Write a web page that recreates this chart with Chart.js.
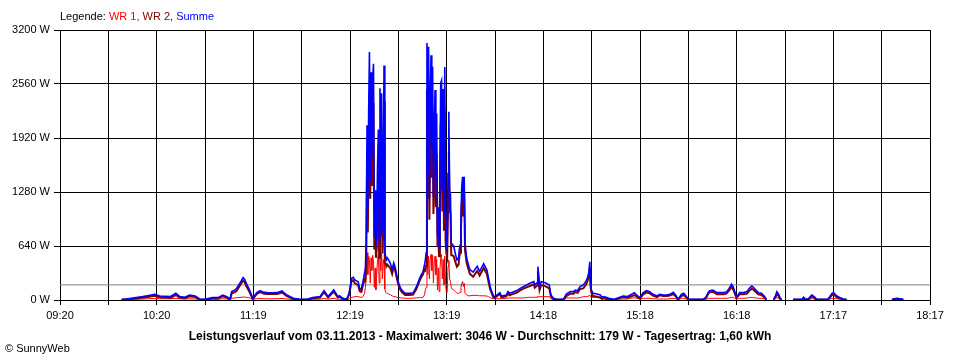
<!DOCTYPE html>
<html lang="de">
<head>
<meta charset="UTF-8">
<title>SunnyWeb Leistungsverlauf</title>
<script src="https://cdn.jsdelivr.net/npm/chart.js"></script>
<style>
  html, body { margin: 0; padding: 0; background: #fff; }
  #wrap { width: 960px; height: 360px; }
</style>
</head>
<body>
<div id="wrap"><canvas id="myChart" width="960" height="360"></canvas></div>
<script>
// Zeitachse in Minuten seit Mitternacht (09:20 .. 18:17)
const xMin = 560;
const xMax = 1097;
const xTickLabels = ['09:20', '', '10:20', '', '11:19', '', '12:19', '', '13:19', '', '14:18', '', '15:18', '', '16:18', '', '17:17', '', '18:17'];
const yMax = 3200;
const yStep = 640;
const durchschnitt = 179;

const times = [
  // morgens
  598, 602, 607, 611, 614, 618.5, 621.5, 625, 628, 631.5, 634, 637, 640, 643.5, 646.5, 649.5, 654, 657.5, 660.5, 663,
  665, 666, 668, 669, 671, 673, 674, 675, 677, 679, 681.5, 683.5, 686, 688, 691, 694, 697, 700, 704, 708,
  712.5, 716, 720.5, 723, 725.5, 729, 731.5, 732.5, 734.5, 737, 738.5, 740, 741, 742, 744, 745, 746, 747,
  // erste Spitze
  748, 748.5, 749, 749.5, 750, 750.5, 751, 751.5, 752, 752.5, 753, 753.5, 754, 754.5, 755, 755.5, 756, 756.5, 757, 757.5,
  758, 758.5, 759, 759.5, 760, 760.5, 761, 761.5, 762, 763, 764, 765, 766, 767, 768, 769, 770,
  771, 773, 776, 778, 780, 782, 783,
  // zweite Spitze
  784, 785, 785.5, 786, 786.5, 787, 787.5, 788, 788.5, 789, 789.5, 790, 790.5, 791, 791.5, 792, 792.5, 793, 793.5, 794,
  794.5, 795, 795.5, 796, 796.5, 797, 797.5, 798, 798.5, 799, 799.5, 800, 800.5, 801, 801.5, 802, 803, 804, 805, 806,
  806.5, 807, 807.5, 808, 808.5, 809, 809.5, 810, 811, 812, 813,
  // nachmittags
  815, 817.5, 819, 821.5, 823.5, 824.5, 825.5, 826.5, 827.5, 828.5, 829.5, 831.5, 832.5, 835.5, 836.5, 837.5, 840, 842, 844, 846,
  848, 850, 852.5, 853, 854.5, 855, 856, 857, 859.5, 862, 863, 864.5, 866.5, 870.5, 871.5, 872.5, 875, 877, 878, 879.5,
  881, 883, 884.5, 885.5, 886.5, 887, 887.5, 888, 889, 891.5, 893.5, 894.5, 895.5, 897.5, 899.5, 901.5,
  903, 905.5, 907.5, 910, 912, 914.5, 916, 918, 920, 922, 924, 926, 928.5, 930, 932.5, 934.5, 936.5, 938.5, 940, 941.5,
  943.5, 945, 947, 948, 957, 959, 960, 961, 963, 965.5, 967.5, 969.5, 971.5, 973, 974.5, 975.5, 976.5, 977.5, 978.5, 979.5,
  981.5, 984, 985.5, 987, 988, 989.5, 991, 993, 995, 996, 998, 1000.5, 1001.5, 1002.5, 1003.5, 1004.5, 1005.5, 1009, 1012.5, 1018,
  1019, 1020, 1022, 1024, 1025.5, 1027, 1034, 1036.5, 1037.5, 1039.5, 1041.5, 1043.5, 1045.5, 1060, 1073.5, 1076.5, 1078.5, 1080.5
];

const summe = [
  5, 15, 28, 40, 51, 67, 47, 45, 40, 79, 40, 32, 59, 47, 8, 8, 28, 28, 59, 40,
  12, 99, 119, 138, 198, 265, 245, 198, 119, 20, 87, 111, 90, 87, 85, 87, 107, 59, 20, 8,
  8, 28, 40, 111, 40, 119, 40, 50, 20, 8, 79, 257, 269, 237, 217, 138, 126, 217,
  320, 380, 700, 2070, 1100, 2200, 2940, 1400, 2700, 1700, 2630, 2800, 750, 1300, 620, 900, 1600, 2020, 700, 2510,
  1100, 2450, 800, 1500, 2780, 560, 520, 480, 500, 470, 430, 360, 440, 380, 280, 200, 150,
  118, 79, 79, 85, 158, 257, 300,
  330, 420, 470, 560, 3046, 1500, 3000, 1200, 2400, 2900, 1800, 2765, 1220, 2000, 2490, 1400, 2210, 750, 1100, 620,
  1500, 2570, 2600, 1300, 2500, 1000, 2760, 900, 630, 600, 1500, 2230, 1300, 1250, 680, 660, 640, 550, 475, 500,
  600, 650, 1000, 1350, 1460, 1150, 1460, 670, 500, 420, 360,
  330, 400, 340, 430, 355, 257, 158, 99, 47, 40, 59, 87, 47, 59, 99, 79, 99, 111, 138, 158,
  178, 198, 217, 178, 205, 395, 158, 217, 205, 178, 59, 20, 8, 8, 32, 71, 99, 99, 118, 110,
  158, 178, 217, 257, 336, 454, 198, 118, 79, 71, 59, 32, 40, 28, 16, 8,
  15, 32, 47, 40, 59, 87, 59, 28, 87, 111, 99, 67, 47, 67, 59, 59, 67, 91, 59, 8,
  67, 79, 32, 8, 8, 40, 87, 111, 118, 87, 87, 87, 99, 138, 186, 158, 99, 40, 59, 87,
  87, 99, 138, 166, 150, 118, 87, 79, 40, 8, null, 8, 47, 99, 71, 20, 5, null, 8, 8,
  32, 8, 15, 59, 40, 8, 8, 79, 87, 47, 28, 12, 5, null, 8, 20, 15, 8
];

const wr1 = [
  3, 6, 10, 12, 15, 18, 15, 15, 15, 20, 15, 12, 15, 12, 5, 5, 10, 10, 15, 12,
  8, 20, 25, 28, 30, 35, 35, 32, 25, 10, 15, 18, 15, 15, 15, 15, 18, 12, 8, 5,
  5, 10, 10, 18, 10, 20, 10, 10, 5, 5, 10, 30, 35, 40, 40, 35, 30, 40,
  80, 150, 300, 560, 300, 520, 480, 200, 500, 350, 530, 460, 150, 380, 120, 300, 480, 540, 200, 520,
  350, 560, 250, 480, 420, 130, 90, 80, 80, 70, 60, 50, 40, 40, 30, 30, 25,
  25, 20, 20, 22, 25, 28, 30,
  30, 60, 120, 150, 550, 300, 520, 250, 480, 540, 350, 530, 200, 450, 520, 300, 480, 120, 380, 100,
  350, 500, 540, 250, 480, 180, 520, 200, 80, 90, 400, 470, 250, 220, 150, 130, 120, 100, 80, 80,
  85, 90, 150, 200, 220, 160, 200, 80, 60, 50, 50,
  55, 55, 50, 50, 47, 40, 30, 20, 16, 16, 16, 16, 16, 16, 24, 24, 24, 24, 24, 24,
  28, 32, 32, 32, 32, 47, 40, 40, 40, 40, 15, 8, 5, 5, 15, 24, 24, 24, 24, 24,
  28, 40, 40, 40, 50, 60, 40, 32, 32, 32, 32, 20, 20, 16, 10, 5,
  8, 10, 12, 12, 20, 28, 20, 10, 20, 20, 20, 15, 12, 12, 12, 12, 15, 20, 15, 5,
  20, 20, 10, 5, 5, 10, 15, 20, 20, 20, 20, 20, 20, 25, 32, 32, 20, 12, 15, 20,
  20, 24, 28, 32, 28, 24, 20, 20, 12, 5, null, 5, 20, 28, 20, 8, 3, null, 5, 5,
  10, 5, 8, 15, 12, 5, 5, 20, 20, 15, 10, 5, 3, null, 5, 8, 6, 5
];

const wr2 = [
  2, 9, 18, 28, 36, 49, 32, 30, 25, 59, 25, 20, 44, 35, 3, 3, 18, 18, 44, 28,
  4, 79, 94, 110, 168, 230, 210, 166, 94, 10, 72, 93, 75, 72, 70, 72, 89, 47, 12, 3,
  3, 18, 30, 93, 30, 99, 30, 40, 15, 3, 69, 227, 234, 197, 177, 103, 96, 177,
  240, 230, 400, 1510, 800, 1680, 2460, 1200, 2200, 1350, 2100, 2340, 600, 920, 500, 600, 1120, 1480, 500, 1990,
  750, 1890, 550, 1020, 2360, 430, 430, 400, 420, 400, 370, 310, 400, 340, 250, 170, 125,
  93, 59, 59, 63, 133, 229, 270,
  300, 360, 350, 410, 2496, 1200, 2480, 950, 1920, 2360, 1450, 2235, 1020, 1550, 1970, 1100, 1730, 630, 720, 520,
  1150, 2070, 2060, 1050, 2020, 820, 2240, 700, 550, 510, 1100, 1760, 1050, 1030, 530, 530, 520, 450, 395, 420,
  515, 560, 850, 1150, 1240, 990, 1260, 590, 440, 370, 310,
  275, 345, 290, 380, 308, 217, 128, 79, 31, 24, 43, 71, 31, 43, 75, 55, 75, 87, 114, 134,
  150, 166, 185, 146, 173, 348, 118, 177, 165, 138, 44, 12, 3, 3, 17, 47, 75, 75, 94, 86,
  130, 138, 177, 217, 286, 394, 158, 86, 47, 39, 27, 12, 20, 12, 6, 3,
  7, 22, 35, 28, 39, 59, 39, 18, 67, 91, 79, 52, 35, 55, 47, 47, 52, 71, 44, 3,
  47, 59, 22, 3, 3, 30, 72, 91, 98, 67, 67, 67, 79, 113, 154, 126, 79, 28, 44, 67,
  67, 75, 110, 134, 122, 94, 67, 59, 28, 3, null, 3, 27, 71, 51, 12, 2, null, 3, 3,
  22, 3, 7, 44, 28, 3, 3, 59, 67, 32, 18, 7, 2, null, 3, 12, 9, 3
];

const legendTexts = ['Legende: ', 'WR 1, ', 'WR 2, ', 'Summe'];
const legendColors = ['#000000', '#ff0000', '#800000', '#0000ff'];
const titel = 'Leistungsverlauf vom 03.11.2013 - Maximalwert: 3046 W - Durchschnitt: 179 W - Tagesertrag: 1,60 kWh';
const copyright = '\u00a9 SunnyWeb';

const fontName = '"Liberation Sans", Arial, sans-serif';

function punkte(werte) {
    return times.map((t, i) => ({ x: t, y: werte[i] }));
}

const textPlugin = {
    id: 'texte',
    afterDraw(chart) {
        const ctx = chart.ctx;
        ctx.save();
        ctx.textBaseline = 'middle';
        ctx.font = '11px ' + fontName;
        let x = 60;
        legendTexts.forEach((txt, i) => {
            ctx.fillStyle = legendColors[i];
            ctx.fillText(txt, x, 17);
            x += ctx.measureText(txt).width;
        });
        ctx.fillStyle = '#000';
        ctx.font = 'bold 12px ' + fontName;
        ctx.textAlign = 'center';
        ctx.fillText(titel, 480, 337);
        ctx.font = '11px ' + fontName;
        ctx.textAlign = 'left';
        ctx.fillText(copyright, 5, 349);
        ctx.restore();
    }
};

const ctx = document.getElementById('myChart').getContext('2d');
const myChart = new Chart(ctx, {
    type: 'line',
    data: {
        datasets: [
            { label: 'Summe', data: punkte(summe), borderColor: '#0000ff', borderWidth: 1.6 },
            { label: 'WR 2', data: punkte(wr2), borderColor: '#800000', borderWidth: 2 },
            { label: 'WR 1', data: punkte(wr1), borderColor: '#ff0000', borderWidth: 1 },
            { label: 'Durchschnitt', data: [{ x: xMin, y: durchschnitt }, { x: xMax, y: durchschnitt }], borderColor: '#808080', borderWidth: 1 }
        ]
    },
    options: {
        responsive: false,
        animation: false,
        devicePixelRatio: 1,
        spanGaps: false,
        elements: {
            point: { radius: 0 },
            line: { tension: 0, fill: false }
        },
        layout: { padding: { left: 0, top: 30, right: 30, bottom: 35 } },
        plugins: {
            legend: { display: false },
            tooltip: { enabled: false },
            title: { display: false }
        },
        scales: {
            x: {
                type: 'linear',
                min: xMin,
                max: xMax,
                afterBuildTicks(scale) {
                    const n = xTickLabels.length - 1;
                    scale.ticks = xTickLabels.map((l, i) => ({ value: xMin + i * (xMax - xMin) / n }));
                },
                afterFit(scale) { scale.height = 25; },
                grid: { color: '#000', lineWidth: 1, tickLength: 5, tickColor: '#000' },
                border: { display: true, color: '#000', width: 1 },
                ticks: {
                    autoSkip: false,
                    maxRotation: 0,
                    padding: 4,
                    color: '#000',
                    font: { family: fontName, size: 11 },
                    callback: (v, i) => xTickLabels[i]
                }
            },
            y: {
                min: 0,
                max: yMax,
                afterFit(scale) { scale.width = 60; },
                grid: { color: '#000', lineWidth: 1, tickLength: 6, tickColor: '#000' },
                border: { display: true, color: '#000', width: 1 },
                ticks: {
                    stepSize: yStep,
                    padding: 4,
                    color: '#000',
                    font: { family: fontName, size: 11 },
                    callback: v => v + ' W'
                }
            }
        }
    },
    plugins: [textPlugin]
});
</script>
</body>
</html>
